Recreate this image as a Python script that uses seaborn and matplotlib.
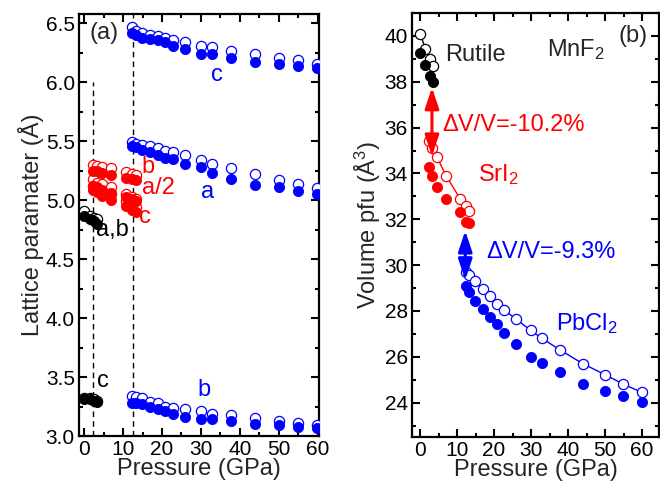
import numpy as np
import pandas as pd
import matplotlib
matplotlib.use("Agg")
import matplotlib.pyplot as plt
import seaborn as sns
from matplotlib.ticker import MultipleLocator

# ---------------- data ----------------
# pressures (GPa) for each phase
p_rutile = [0.0, 1.4, 2.6, 3.4]
p_sri2 = [2.4, 3.2, 4.6, 7.0, 10.8, 12.4, 13.3]
p_pbcl2 = [12.4, 13.3, 14.9, 16.9, 18.9, 20.9, 22.7, 26.0, 29.9, 32.9,
           37.8, 44.0, 50.0, 54.9, 59.9]

# (a) lattice parameters (Angstrom): open = calc, filled = exp
rut_ab_open = [4.91, 4.87, 4.85, 4.84]
rut_ab_fill = [4.87, 4.84, 4.82, 4.80]
rut_c_open = [3.32, 3.32, 3.31, 3.30]
rut_c_fill = [3.31, 3.31, 3.30, 3.29]

sri_b_open = [5.30, 5.29, 5.28, 5.27, 5.24, 5.22, 5.21]
sri_b_fill = [5.25, 5.25, 5.23, 5.21, 5.19, 5.18, 5.17]
sri_a2_open = [5.18, 5.15, 5.14, 5.11, 5.05, 5.03, 5.01]
sri_a2_fill = [5.12, 5.11, 5.09, 5.06, 5.03, 5.01, 4.99]
sri_c_open = [5.12, 5.10, 5.08, 5.05, 4.99, 4.96, 4.94]
sri_c_fill = [5.09, 5.07, 5.04, 5.00, 4.95, 4.92, 4.90]

pb_c_open = [6.47, 6.44, 6.42, 6.40, 6.39, 6.38, 6.36, 6.34, 6.31, 6.30,
             6.27, 6.24, 6.21, 6.19, 6.16]
pb_c_fill = [6.42, 6.40, 6.38, 6.37, 6.36, 6.34, 6.31, 6.28, 6.24, 6.24,
             6.21, 6.17, 6.16, 6.14, 6.12]
pb_a_open = [5.49, 5.48, 5.47, 5.46, 5.44, 5.42, 5.41, 5.38, 5.34, 5.31,
             5.27, 5.22, 5.17, 5.14, 5.10]
pb_a_fill = [5.46, 5.45, 5.43, 5.41, 5.38, 5.36, 5.35, 5.31, 5.28, 5.23,
             5.18, 5.13, 5.11, 5.08, 5.05]
pb_b_open = [3.34, 3.33, 3.32, 3.29, 3.28, 3.25, 3.24, 3.23, 3.21, 3.19,
             3.18, 3.15, 3.13, 3.11, 3.09]
pb_b_fill = [3.28, 3.28, 3.27, 3.25, 3.23, 3.21, 3.19, 3.16, 3.14, 3.14,
             3.13, 3.10, 3.09, 3.08, 3.07]

# (b) volume per formula unit (A^3)
rut_v_open = [40.1, 39.45, 39.0, 38.7]
rut_v_fill = [39.25, 38.75, 38.25, 38.0]
sri_v_open = [35.4, 35.1, 34.7, 33.9, 32.9, 32.6, 32.35]
sri_v_fill = [34.3, 33.9, 33.4, 32.9, 32.3, 31.9, 31.85]
pb_v_open = [29.71, 29.57, 29.32, 28.94, 28.65, 28.30, 28.04, 27.64, 27.15,
             26.81, 26.30, 25.70, 25.22, 24.81, 24.45]
pb_v_fill = [29.09, 28.84, 28.45, 28.09, 27.73, 27.43, 27.04, 26.54, 25.99,
             25.75, 25.32, 24.81, 24.49, 24.27, 24.01]

# transitions
p_trans1 = 2.4
p_trans2 = 12.5
dv1_label = "ΔV/V=-10.2%"
dv2_label = "ΔV/V=-9.3%"

# ---------------- style ----------------
sns.set_style("ticks")
plt.rcParams['font.family'] = ['Liberation Sans', 'DejaVu Sans']
plt.rcParams['mathtext.fontset'] = 'custom'
plt.rcParams['mathtext.rm'] = 'Liberation Sans'
plt.rcParams['mathtext.it'] = 'Liberation Sans:italic'
plt.rcParams['mathtext.bf'] = 'Liberation Sans:bold'

BLACK, RED, BLUE = "#000000", "#ff0000", "#0000ff"
S = 54
TICK_FS = 15
LAB_FS = 17
ANN_FS = 17

fig = plt.figure(figsize=(6.6, 4.9), dpi=100)
ax1 = fig.add_axes([79/660, 54/490, 240/660, 422/490])
ax2 = fig.add_axes([412/660, 53/490, 247/660, 424/490])


def pts(ax, x, y, color, filled, line=False):
    df = pd.DataFrame({"P": x, "y": y})
    if line:
        sns.lineplot(data=df, x="P", y="y", ax=ax, color=color, lw=1.0,
                     sort=False, estimator=None, zorder=2)
    if filled:
        sns.scatterplot(data=df, x="P", y="y", ax=ax, color=color, s=S,
                        edgecolor=color, linewidth=0.6, zorder=4)
    else:
        sns.scatterplot(data=df, x="P", y="y", ax=ax, color="white", s=S,
                        edgecolor=color, linewidth=0.9, zorder=3)


# ---- panel (a) ----
ax1.axvline(p_trans1, ymin=0, ymax=(6.0 - 3.0) / (6.58 - 3.0), color="black",
            lw=1.0, ls=(0, (4, 3)), zorder=1)
ax1.axvline(p_trans2, color="black", lw=1.0, ls=(0, (4, 3)), zorder=1)

for yo, yf in [(rut_ab_open, rut_ab_fill), (rut_c_open, rut_c_fill)]:
    pts(ax1, p_rutile, yo, BLACK, False)
    pts(ax1, p_rutile, yf, BLACK, True)
for yo, yf in [(sri_b_open, sri_b_fill), (sri_a2_open, sri_a2_fill),
               (sri_c_open, sri_c_fill)]:
    pts(ax1, p_sri2, yo, RED, False)
    pts(ax1, p_sri2, yf, RED, True)
for yo, yf in [(pb_c_open, pb_c_fill), (pb_a_open, pb_a_fill),
               (pb_b_open, pb_b_fill)]:
    pts(ax1, p_pbcl2, yo, BLUE, False)
    pts(ax1, p_pbcl2, yf, BLUE, True)

ax1.set_xlim(-1.3, 60.3)
ax1.set_ylim(3.0, 6.58)
ax1.xaxis.set_major_locator(MultipleLocator(10))
ax1.xaxis.set_minor_locator(MultipleLocator(5))
ax1.yaxis.set_major_locator(MultipleLocator(0.5))
ax1.yaxis.set_minor_locator(MultipleLocator(0.25))
ax1.yaxis.set_major_formatter(matplotlib.ticker.FormatStrFormatter('%.1f'))
ax1.set_xlabel("Pressure (GPa)", fontsize=LAB_FS, labelpad=-1)
ax1.set_ylabel("Lattice paramater (Å)", fontsize=LAB_FS, labelpad=1)

ax1.text(1.5, 6.42, "(a)", fontsize=17, ha="left", va="center")
ax1.text(34, 6.06, "c", color=BLUE, fontsize=ANN_FS, ha="center", va="center")
ax1.text(14.8, 5.28, "b", color=RED, fontsize=ANN_FS, ha="left", va="center")
ax1.text(14.8, 5.10, "a/2", color=RED, fontsize=ANN_FS, ha="left", va="center")
ax1.text(14.1, 4.86, "c", color=RED, fontsize=ANN_FS, ha="left", va="center")
ax1.text(31.8, 5.07, "a", color=BLUE, fontsize=ANN_FS, ha="center", va="center")
ax1.text(3.1, 4.75, "a,b", color=BLACK, fontsize=ANN_FS, ha="left", va="center")
ax1.text(3.3, 3.47, "c", color=BLACK, fontsize=ANN_FS, ha="left", va="center")
ax1.text(30.8, 3.39, "b", color=BLUE, fontsize=ANN_FS, ha="center", va="center")

# ---- panel (b) ----
pts(ax2, p_rutile, rut_v_open, BLACK, False, line=True)
pts(ax2, p_rutile, rut_v_fill, BLACK, True)
pts(ax2, p_sri2, sri_v_open, RED, False, line=True)
pts(ax2, p_sri2, sri_v_fill, RED, True)
pts(ax2, p_pbcl2, pb_v_open, BLUE, False, line=True)
pts(ax2, p_pbcl2, pb_v_fill, BLUE, True)

ax2.annotate("", xy=(3.2, 34.75), xytext=(3.2, 37.75),
             arrowprops=dict(arrowstyle="<|-|>,head_length=0.9,head_width=0.3",
                             color=RED, lw=2.2, mutation_scale=14,
                             shrinkA=0, shrinkB=0), zorder=5)
ax2.annotate("", xy=(12.2, 29.35), xytext=(12.2, 31.5),
             arrowprops=dict(arrowstyle="<|-|>,head_length=0.9,head_width=0.3",
                             color=BLUE, lw=2.2, mutation_scale=14,
                             shrinkA=0, shrinkB=0), zorder=5)

ax2.set_xlim(-2.2, 64.6)
ax2.set_ylim(22.5, 41.0)
ax2.xaxis.set_major_locator(MultipleLocator(10))
ax2.xaxis.set_minor_locator(MultipleLocator(5))
ax2.yaxis.set_major_locator(MultipleLocator(2))
ax2.yaxis.set_minor_locator(MultipleLocator(1))
ax2.set_xlabel("Pressure (GPa)", fontsize=LAB_FS, labelpad=-1)
ax2.set_ylabel("Volume pfu (Å$^\\mathrm{3}$)", fontsize=LAB_FS, labelpad=1)

ax2.text(6.8, 38.91, "Rutile", fontsize=ANN_FS, ha="left", va="baseline")
ax2.text(34.2, 39.13, "MnF$_\\mathrm{2}$", fontsize=ANN_FS, ha="left", va="baseline")
ax2.text(61.6, 40.0, "(b)", fontsize=17, ha="right", va="center")
ax2.text(5.9, 35.87, dv1_label, color=RED, fontsize=ANN_FS, ha="left", va="baseline")
ax2.text(15.7, 33.67, "SrI$_\\mathrm{2}$", color=RED, fontsize=ANN_FS, ha="left", va="baseline")
ax2.text(18.0, 30.33, dv2_label, color=BLUE, fontsize=ANN_FS, ha="left", va="baseline")
ax2.text(36.7, 27.17, "PbCl$_\\mathrm{2}$", color=BLUE, fontsize=ANN_FS, ha="left", va="baseline")

for ax in (ax1, ax2):
    for sp in ax.spines.values():
        sp.set_visible(True)
        sp.set_linewidth(1.6)
        sp.set_color("black")
    ax.tick_params(which="both", direction="in", top=True, right=True,
                   labelsize=TICK_FS, width=1.5, colors="black", pad=3)
    ax.tick_params(which="major", length=5.5)
    ax.tick_params(which="minor", length=3)
    ax.set_facecolor("white")

fig.savefig("out.png", dpi=100, facecolor="white")
